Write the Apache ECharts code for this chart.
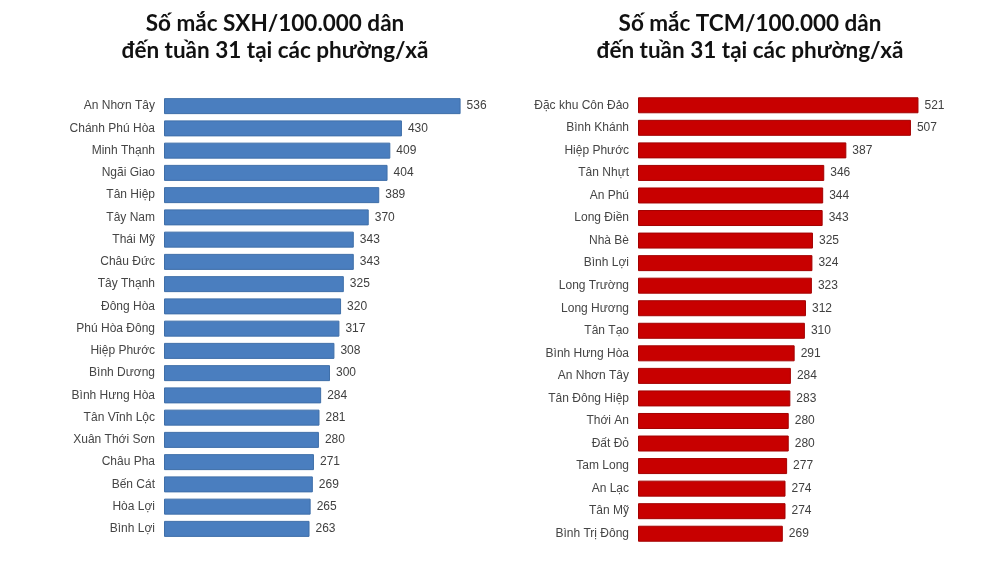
<!DOCTYPE html>
<html>
<head>
<meta charset="utf-8">
<script src="https://cdn.jsdelivr.net/npm/echarts@6/dist/echarts.min.js"></script>
<style>
  html, body { margin: 0; padding: 0; background: #fff; }
  #chart { width: 1000px; height: 562px; }
</style>
</head>
<body>
<div id="chart"></div>
<script>
// SXH (left) data
var sxhNames = ['An Nhơn Tây', 'Chánh Phú Hòa', 'Minh Thạnh', 'Ngãi Giao', 'Tân Hiệp',
    'Tây Nam', 'Thái Mỹ', 'Châu Đức', 'Tây Thạnh', 'Đông Hòa',
    'Phú Hòa Đông', 'Hiệp Phước', 'Bình Dương', 'Bình Hưng Hòa', 'Tân Vĩnh Lộc',
    'Xuân Thới Sơn', 'Châu Pha', 'Bến Cát', 'Hòa Lợi', 'Bình Lợi'];
var sxhValues = [536, 430, 409, 404, 389, 370, 343, 343, 325, 320,
    317, 308, 300, 284, 281, 280, 271, 269, 265, 263];

// TCM (right) data
var tcmNames = ['Đặc khu Côn Đảo', 'Bình Khánh', 'Hiệp Phước', 'Tân Nhựt', 'An Phú',
    'Long Điền', 'Nhà Bè', 'Bình Lợi', 'Long Trường', 'Long Hương',
    'Tân Tạo', 'Bình Hưng Hòa', 'An Nhơn Tây', 'Tân Đông Hiệp', 'Thới An',
    'Đất Đỏ', 'Tam Long', 'An Lạc', 'Tân Mỹ', 'Bình Trị Đông'];
var tcmValues = [521, 507, 387, 346, 344, 343, 325, 324, 323, 312,
    310, 291, 284, 283, 280, 280, 277, 274, 274, 269];

var titleLeft = 'Số mắc SXH/100.000 dân\nđến tuần 31 tại các phường/xã';
var titleRight = 'Số mắc TCM/100.000 dân\nđến tuần 31 tại các phường/xã';

var labelFont = '"Liberation Sans", Arial, sans-serif';

var chart = echarts.init(document.getElementById('chart'));

function catAxis(names, gridIndex) {
    return {
        type: 'category',
        gridIndex: gridIndex,
        data: names,
        inverse: true,
        axisLine: { show: false },
        axisTick: { show: false },
        axisLabel: {
            color: '#454545',
            fontSize: 12,
            fontFamily: labelFont,
            margin: 9
        }
    };
}

function valAxis(gridIndex) {
    return {
        type: 'value',
        gridIndex: gridIndex,
        min: 0,
        max: 600,
        show: false,
        splitLine: { show: false }
    };
}

function barSeries(values, idx, color, border) {
    return {
        type: 'bar',
        xAxisIndex: idx,
        yAxisIndex: idx,
        data: values,
        barWidth: 16,
        itemStyle: { color: color, borderColor: border, borderWidth: 1 },
        label: {
            show: true,
            position: 'right',
            distance: 6,
            color: '#404040',
            fontSize: 12,
            fontFamily: labelFont
        },
        silent: true
    };
}

var titleStyle = { fontFamily: 'Lato', fontWeight: 'bold', fontSize: 22.5, lineHeight: 27, color: '#111111' };

var option = {
    animation: false,
    backgroundColor: '#ffffff',
    title: [
        { text: titleLeft, left: 270, top: 5, textAlign: 'center', textStyle: titleStyle },
        { text: titleRight, left: 745, top: 5, textAlign: 'center', textStyle: titleStyle }
    ],
    grid: [
        { left: 164, top: 95, width: 332, height: 445 },
        { left: 638, top: 94, width: 323, height: 451 }
    ],
    xAxis: [valAxis(0), valAxis(1)],
    yAxis: [catAxis(sxhNames, 0), catAxis(tcmNames, 1)],
    series: [
        barSeries(sxhValues, 0, '#4a7ebf', '#3f6fa9'),
        barSeries(tcmValues, 1, '#c80000', '#a30000')
    ]
};

chart.setOption(option);
</script>
</body>
</html>
